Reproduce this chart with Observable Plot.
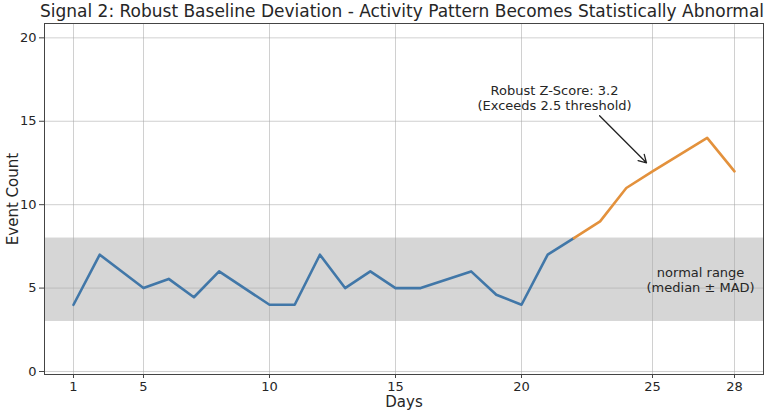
<!DOCTYPE html>
<html>
<head>
<meta charset="utf-8">
<script src="https://cdn.jsdelivr.net/npm/d3@7"></script>
<script src="https://cdn.jsdelivr.net/npm/@observablehq/plot@0.6"></script>
<style>
  html, body { margin: 0; padding: 0; background: #fff; }
  #wrap { width: 768px; height: 410px; overflow: hidden; font-family: "DejaVu Sans", sans-serif; }
  #title { height: 20px; line-height: 22px; font-size: 17px; color: #262626; text-align: center; padding-left: 36px; white-space: nowrap; }
</style>
</head>
<body>
<div id="wrap">
  <div id="title">Signal 2: Robust Baseline Deviation - Activity Pattern Becomes Statistically Abnormal</div>
  <div id="chart"></div>
</div>
<script>
// ---- data ----
const baselineDays   = [1, 2.5, 5, 6, 7, 8, 10, 11, 12, 13, 14, 15, 16, 18, 19, 20, 21, 22];
const baselineCounts = [4, 7, 5, 5.55, 4.45, 6, 4, 4, 7, 5, 6, 5, 5, 6, 4.6, 4, 7, 8];
const anomalyDays    = [22, 23, 24, 25, 27, 28];
const anomalyCounts  = [8, 9, 11, 12, 14, 12];
const normalRange    = [3, 8];            // median ± MAD band
const xTicks         = [1, 5, 10, 15, 20, 25, 28];
const yTicks         = [0, 5, 10, 15, 20];
const annotation     = "Robust Z-Score: 3.2\n(Exceeds 2.5 threshold)";
const bandLabel      = "normal range\n(median ± MAD)";

const baseline = baselineDays.map((d, i) => ({day: d, count: baselineCounts[i]}));
const anomaly  = anomalyDays.map((d, i) => ({day: d, count: anomalyCounts[i]}));

// x scale follows the reference's tick spacing (piecewise)
const xDomain = [-0.66, 1, 5, 10, 15, 20, 25, 28, 29.06];
const xRange  = [44, 73, 143, 269, 395, 521, 652, 734, 763];

const textColor = "#262626";
const chart = Plot.plot({
  width: 768,
  height: 390,
  marginTop: 3,
  marginBottom: 36,
  marginLeft: 44,
  marginRight: 5,
  style: {fontFamily: "DejaVu Sans, sans-serif", background: "white", color: textColor},
  x: {type: "linear", domain: xDomain, range: xRange},
  y: {domain: [-0.18, 20.86]},
  marks: [
    Plot.rect([normalRange], {x1: xDomain[0], x2: xDomain[xDomain.length - 1], y1: d => d[0], y2: d => d[1], fill: "#d6d6d6"}),
    Plot.gridX(xTicks, {stroke: "#a8a8a8", strokeOpacity: 0.6, strokeWidth: 0.9}),
    Plot.gridY(yTicks, {stroke: "#a8a8a8", strokeOpacity: 0.6, strokeWidth: 0.9}),
    Plot.line(baseline, {x: "day", y: "count", stroke: "#4177a8", strokeWidth: 2.6}),
    Plot.line(anomaly, {x: "day", y: "count", stroke: "#e3913c", strokeWidth: 2.6}),
    Plot.frame({stroke: "#444", strokeWidth: 1}),
    Plot.axisX(xTicks, {tickSize: 4, tickPadding: 3, fontSize: 13, label: null, stroke: "#444", color: textColor}),
    Plot.axisY(yTicks, {tickSize: 5, tickPadding: 3, fontSize: 13, label: null, stroke: "#444", color: textColor}),
    Plot.text(["Days"], {frameAnchor: "bottom", dy: 28, fontSize: 15, fill: textColor, lineAnchor: "middle", textAnchor: "middle"}),
    Plot.text(["Event Count"], {frameAnchor: "left", dx: -31, rotate: -90, fontSize: 15, fill: textColor, lineAnchor: "middle", textAnchor: "middle"}),
    Plot.text([annotation], {x: 21.26, y: 16.4, fontSize: 13, fill: textColor, lineAnchor: "middle", lineHeight: 1.15}),
    Plot.arrow([{}], {x1: 22.98, y1: 15.33, x2: 24.77, y2: 12.51, stroke: "#222", strokeWidth: 1.3, headLength: 10}),
    Plot.text([bandLabel], {x: 26.76, y: 5.5, fontSize: 13, fill: textColor, lineAnchor: "middle", lineHeight: 1.15})
  ]
});
document.getElementById("chart").appendChild(chart);
</script>
</body>
</html>
